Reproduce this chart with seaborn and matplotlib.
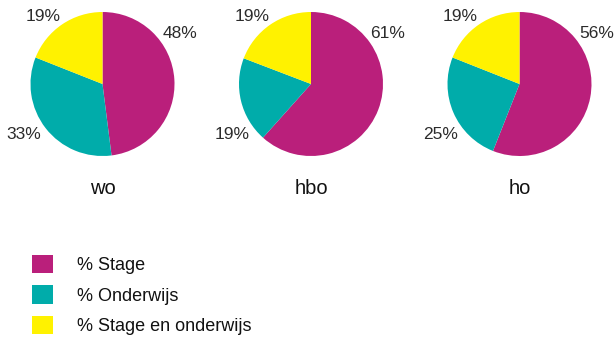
import matplotlib
matplotlib.use("Agg")
import matplotlib.pyplot as plt
import seaborn as sns
from matplotlib.patches import Patch

# Data
groups = ["wo", "hbo", "ho"]
series = ["% Stage", "% Onderwijs", "% Stage en onderwijs"]
stage = [48, 61, 56]
onderwijs = [33, 19, 25]
beide = [19, 19, 19]

sns.set_theme(style="white")
plt.rcParams["font.family"] = ["Liberation Sans", "DejaVu Sans"]

colors = ["#BA1F7B", "#00ACAA", "#FFF200"]
text_color = "#2b2b2b"

W, H = 614, 340
fig = plt.figure(figsize=(W / 100, H / 100), dpi=100)
fig.patch.set_facecolor("white")

R = 72  # pie radius in px
centers_x = [102.5, 311, 519.5]
center_y = 84

# label offsets (in pie-radius units) for each series
label_pos = [(1.07, 0.70), (-1.09, -0.70), (-0.82, 0.94)]

for i, g in enumerate(groups):
    cx = centers_x[i]
    ax = fig.add_axes([(cx - R) / W, (H - center_y - R) / H, 2 * R / W, 2 * R / H])
    vals = [stage[i], onderwijs[i], beide[i]]
    ax.pie(vals, colors=colors, startangle=90, counterclock=False,
           wedgeprops=dict(linewidth=0), radius=1)
    ax.set_xlim(-1, 1)
    ax.set_ylim(-1, 1)
    ax.set_aspect("equal")
    ax.axis("off")
    for v, (lx, ly) in zip(vals, label_pos):
        ax.text(lx, ly, f"{v}%", ha="center", va="center", fontsize=12.5,
                color=text_color)
    fig.text(cx / W, 1 - 188 / H, g, ha="center", va="center", fontsize=14.5,
             color="#111111")

handles = [Patch(facecolor=c, edgecolor="none") for c in colors]
fig.legend(handles, series, loc="upper left",
           bbox_to_anchor=(32 / W, 1 - 255 / H), frameon=False,
           fontsize=13, handlelength=1.17, handleheight=1.17,
           handletextpad=1.33, labelspacing=0.62, borderaxespad=0,
           borderpad=0, labelcolor="#111111")

fig.savefig("out.png", dpi=100, facecolor="white")
